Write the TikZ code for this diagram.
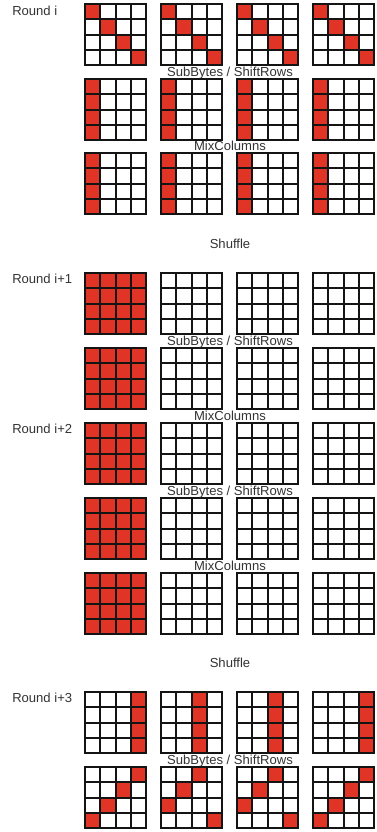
\documentclass[tikz,border=0pt]{standalone}
\usepackage{fontspec}
\setmainfont{Liberation Sans}
\usetikzlibrary{positioning}

\definecolor{cellred}{RGB}{224,52,38}
\definecolor{labelgray}{RGB}{51,51,51}
\definecolor{gridblack}{RGB}{20,20,20}

% empty 4x4 state, top left corner at (#1,#2)
\newcommand{\blankstate}[2]{%
  \foreach \k in {1,2,3} {
    \draw[cellline] (#1+\k*15.25,#2) -- ++(0,61);
    \draw[cellline] (#1,#2+\k*15.25) -- ++(61,0);
  }
  \draw[cellline] (#1,#2) rectangle ++(61,61);
}
% state with some red bytes, #3 = list of col/row
\newcommand{\aesstate}[3]{%
  \foreach \c/\r in {#3}
    \fill[cellred] (#1+\c*15.25,#2+\r*15.25) rectangle ++(15.25,15.25);
  \blankstate{#1}{#2}
}
% state with all bytes red
\newcommand{\fullstate}[2]{%
  \fill[cellred] (#1,#2) rectangle ++(61,61);
  \blankstate{#1}{#2}
}

\begin{document}
\begin{tikzpicture}[
    x=0.75pt, y=-0.75pt,
    cellline/.style={draw=gridblack, line width=1.5pt},
    roundlabel/.style={anchor=base west, inner sep=0pt, text=labelgray, font=\fontsize{9.8pt}{12pt}\selectfont},
    steplabel/.style={anchor=base, inner sep=0pt, text=labelgray, font=\fontsize{9.8pt}{12pt}\selectfont},
  ]
  \useasboundingbox (0,0) rectangle (376,832);

  % Round i
  \node[roundlabel] (round0) at (12,15.5) {Round i};
  \foreach \x in {85,161,237,313}
    \aesstate{\x}{4}{0/0,1/1,2/2,3/3};
  \node[steplabel] (sub0) at (230,76.5) {SubBytes / ShiftRows};
  \foreach \x in {85,161,237,313}
    \aesstate{\x}{79}{0/0,0/1,0/2,0/3};
  \node[steplabel] (mix0) at (230,150.5) {MixColumns};
  \foreach \x in {85,161,237,313}
    \aesstate{\x}{153}{0/0,0/1,0/2,0/3};

  \node[steplabel] (shuffle0) at (230,248) {Shuffle};

  % Round i+1 and i+2
  \node[roundlabel] (round1) at (12,283.5) {Round i+1};
  \node[roundlabel] (round2) at (12,433.5) {Round i+2};
  \foreach \y in {273,348,423,498,573} {
    \fullstate{85}{\y}
    \foreach \x in {161,237,313}
      \blankstate{\x}{\y};
  }
  \node[steplabel] (sub1) at (230,345) {SubBytes / ShiftRows};
  \node[steplabel] (mix1) at (230,420) {MixColumns};
  \node[steplabel] (sub2) at (230,495) {SubBytes / ShiftRows};
  \node[steplabel] (mix2) at (230,570) {MixColumns};

  \node[steplabel] (shuffle1) at (230,667) {Shuffle};

  % Round i+3
  \node[roundlabel] (round3) at (12,702) {Round i+3};
  \aesstate{85}{692}{3/0,3/1,3/2,3/3}
  \aesstate{161}{692}{2/0,2/1,2/2,2/3}
  \aesstate{237}{692}{2/0,2/1,2/2,2/3}
  \aesstate{313}{692}{3/0,3/1,3/2,3/3}
  \node[steplabel] (sub3) at (230,764) {SubBytes / ShiftRows};
  \aesstate{85}{767}{3/0,2/1,1/2,0/3}
  \aesstate{161}{767}{2/0,1/1,0/2,3/3}
  \aesstate{237}{767}{2/0,1/1,0/2,3/3}
  \aesstate{313}{767}{3/0,2/1,1/2,0/3}
\end{tikzpicture}
\end{document}
